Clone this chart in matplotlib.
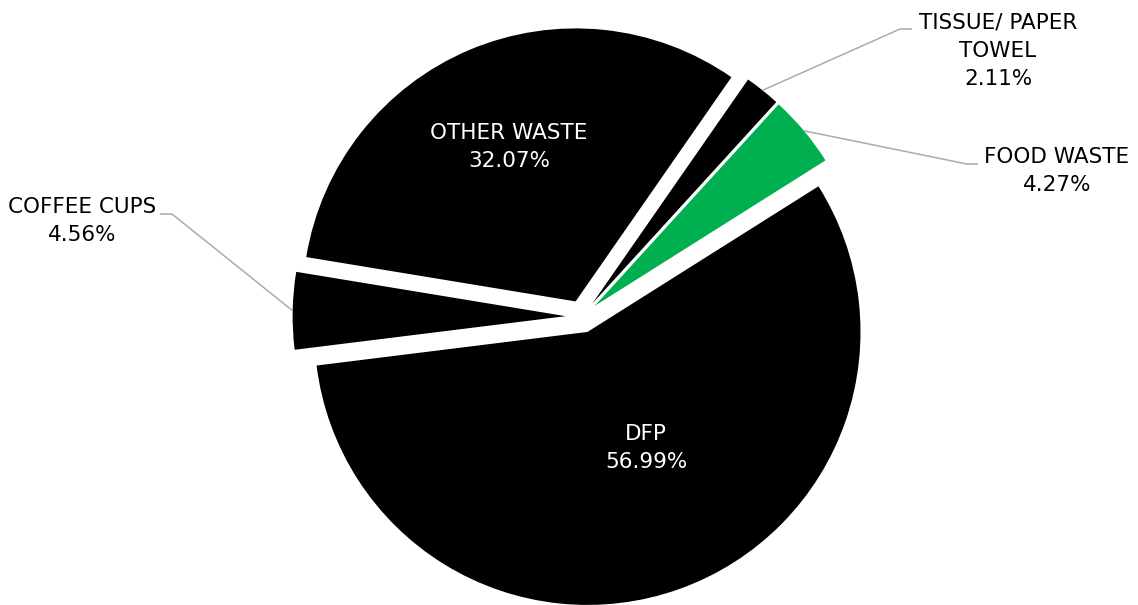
import numpy as np
import matplotlib.pyplot as plt

# waste composition (clockwise from the first slice)
categories = ["TISSUE/ PAPER\nTOWEL", "FOOD WASTE", "DFP", "COFFEE CUPS", "OTHER WASTE"]
shares = [2.11, 4.27, 56.99, 4.56, 32.07]
colors = ["#000000", "#00B050", "#000000", "#000000", "#000000"]

W, H = 1138, 605
CX, CY, R = 582.0, 316.5, 273.0  # pie centre / radius in pixels


def px(x, y):
    # pixel position (origin top-left) -> data units
    return (x - CX) / R, (CY - y) / R


fig = plt.figure(figsize=(W / 100, H / 100), dpi=100)
ax = fig.add_axes([0, 0, 1, 1])

wedges, _ = ax.pie(shares, colors=colors, startangle=55.2, counterclock=False,
                   explode=[0.06] * len(shares), radius=1.0,
                   wedgeprops=dict(linewidth=0))

ax.set_xlim(-CX / R, (W - CX) / R)
ax.set_ylim(-(H - CY) / R, CY / R)
ax.set_aspect("auto")
ax.axis("off")

font = dict(family="DejaVu Sans", fontsize=15.5, linespacing=1.5)

# inside labels
inside = {"OTHER WASTE": (509, 147), "DFP": (646, 448)}
# outside labels: text centre, elbow point, end of horizontal stub
outside = {
    "TISSUE/ PAPER\nTOWEL": ((998, 51), (900, 29), (912, 29)),
    "FOOD WASTE": ((1057, 171), (967, 164), (978, 164)),
    "COFFEE CUPS": ((82, 221), (172, 214), (160, 214)),
}

for w, name, val in zip(wedges, categories, shares):
    label = f"{name}\n{val:.2f}%"
    if name in inside:
        x, y = px(*inside[name])
        ax.text(x, y, label, color="white", ha="center", va="center", **font)
    else:
        (tx, ty), elbow, stub = outside[name]
        x, y = px(tx, ty)
        ax.text(x, y, label, color="black", ha="center", va="center", **font)
        mid = np.deg2rad((w.theta1 + w.theta2) / 2)
        cx, cy = w.center
        ex, ey = cx + w.r * np.cos(mid), cy + w.r * np.sin(mid)
        bx, by = px(*elbow)
        sx, sy = px(*stub)
        ax.plot([ex, bx, sx], [ey, by, sy], color="#ABABAB", lw=1.1,
                solid_capstyle="butt")

fig.savefig("out.png", dpi=100)
